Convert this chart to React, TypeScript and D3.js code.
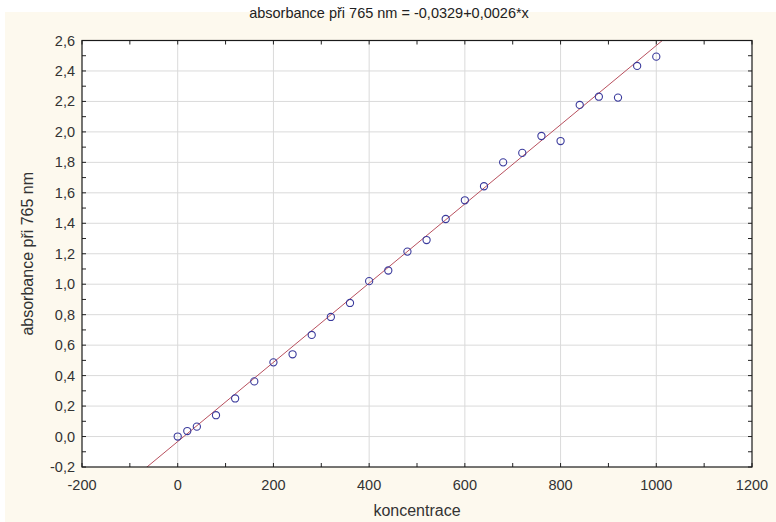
import { select, scaleLinear, range, line } from "d3";
import { useEffect, useRef } from "react";

// measured points: koncentrace vs. absorbance
const koncentrace = [0, 20, 40, 80, 120, 160, 200, 240, 280, 320, 360, 400, 440, 480, 520, 560, 600, 640, 680, 720, 760, 800, 840, 880, 920, 960, 1000];
const absorbance = [0.0, 0.036, 0.065, 0.14, 0.25, 0.362, 0.487, 0.54, 0.667, 0.785, 0.877, 1.02, 1.09, 1.214, 1.29, 1.428, 1.551, 1.643, 1.8, 1.862, 1.973, 1.94, 2.177, 2.231, 2.225, 2.433, 2.494];

// regression line from the title
const intercept = -0.0329;
const slope = 0.0026;

const xTicks = [-200, 0, 200, 400, 600, 800, 1000, 1200];
const yTicks = [-0.2, 0.0, 0.2, 0.4, 0.6, 0.8, 1.0, 1.2, 1.4, 1.6, 1.8, 2.0, 2.2, 2.4, 2.6];

const title = "absorbance při 765 nm = -0,0329+0,0026*x";
const xLabel = "koncentrace";
const yLabel = "absorbance při 765 nm";

const W = 776, H = 522;
const margin = { top: 40.5, right: 24, bottom: 55, left: 82 };

export default function App() {
  const ref = useRef<SVGSVGElement>(null);

  useEffect(() => {
    if (!ref.current) return;
    const svg = select(ref.current);
    svg.selectAll("*").remove();

    const width = W - margin.left - margin.right;
    const height = H - margin.top - margin.bottom;

    const x = scaleLinear().domain([-200, 1200]).range([0, width]);
    const y = scaleLinear().domain([-0.2, 2.6]).range([height, 0]);

    // backgrounds
    svg.append("rect").attr("width", W).attr("height", H).attr("fill", "#ffffff");
    svg.append("rect").attr("x", 5).attr("y", 12).attr("width", W - 5).attr("height", H - 12).attr("fill", "#fdf9ee");

    const chart = svg.append("g").attr("transform", `translate(${margin.left}, ${margin.top})`);
    chart.append("rect").attr("width", width).attr("height", height).attr("fill", "#ffffff");

    svg.append("defs").append("clipPath").attr("id", "plotclip")
      .append("rect").attr("width", width).attr("height", height);

    // grid
    chart.append("g").selectAll("line").data(xTicks.slice(1, -1)).enter().append("line")
      .attr("x1", (d) => x(d)).attr("x2", (d) => x(d)).attr("y1", 0).attr("y2", height)
      .attr("stroke", "#dadada").attr("stroke-width", 1);
    chart.append("g").selectAll("line").data(yTicks.slice(1, -1)).enter().append("line")
      .attr("y1", (d) => y(d)).attr("y2", (d) => y(d)).attr("x1", 0).attr("x2", width)
      .attr("stroke", "#dadada").attr("stroke-width", 1);

    // minor + major ticks, pointing inward on all four sides
    const tl = 4;
    const xt = range(-200, 1201, 100);
    const yt = range(-2, 27, 1).map((v) => v / 10);
    const ticks = chart.append("g").attr("stroke", "#222").attr("stroke-width", 1);
    xt.forEach((d) => {
      ticks.append("line").attr("x1", x(d)).attr("x2", x(d)).attr("y1", height).attr("y2", height - tl);
      ticks.append("line").attr("x1", x(d)).attr("x2", x(d)).attr("y1", 0).attr("y2", tl);
    });
    yt.forEach((d) => {
      ticks.append("line").attr("y1", y(d)).attr("y2", y(d)).attr("x1", 0).attr("x2", tl);
      ticks.append("line").attr("y1", y(d)).attr("y2", y(d)).attr("x1", width).attr("x2", width - tl);
    });

    // fit line
    const fit = line<number>().x((d) => x(d)).y((d) => y(intercept + slope * d));
    chart.append("path").datum([-200, 1200]).attr("d", fit)
      .attr("clip-path", "url(#plotclip)")
      .attr("fill", "none").attr("stroke", "#b8505e").attr("stroke-width", 1);

    // points
    chart.append("g").selectAll("circle").data(koncentrace).enter().append("circle")
      .attr("cx", (d) => x(d))
      .attr("cy", (d, i) => y(absorbance[i]))
      .attr("r", 3.6)
      .attr("fill", "none").attr("stroke", "#3a3a9c").attr("stroke-width", 1.1);

    // frame
    chart.append("rect").attr("width", width).attr("height", height)
      .attr("fill", "none").attr("stroke", "#1a1a1a").attr("stroke-width", 1.2);

    const font = "'Liberation Sans', Arial, sans-serif";

    // tick labels
    chart.append("g").selectAll("text").data(xTicks).enter().append("text")
      .attr("x", (d) => x(d)).attr("y", height + 23)
      .attr("text-anchor", "middle").attr("font-family", font).attr("font-size", 14.5)
      .attr("fill", "#333").text((d) => String(d));
    chart.append("g").selectAll("text").data(yTicks).enter().append("text")
      .attr("x", -7).attr("y", (d) => y(d) + 5)
      .attr("text-anchor", "end").attr("font-family", font).attr("font-size", 14.5)
      .attr("fill", "#333").text((d) => d.toFixed(1).replace(".", ","));

    // titles
    svg.append("text").attr("x", 389).attr("y", 18).attr("text-anchor", "middle")
      .attr("font-family", font).attr("font-size", 14.5).attr("fill", "#222").text(title);
    svg.append("text").attr("x", margin.left + width / 2).attr("y", H - 6).attr("text-anchor", "middle")
      .attr("font-family", font).attr("font-size", 16).attr("fill", "#333").text(xLabel);
    svg.append("text").attr("transform", `translate(33, ${margin.top + height / 2}) rotate(-90)`)
      .attr("text-anchor", "middle")
      .attr("font-family", font).attr("font-size", 16).attr("fill", "#333").text(yLabel);
  }, []);

  return (
    <svg
      ref={ref}
      width={W}
      height={H}
      style={{ position: "absolute", left: 0, top: 0, display: "block" }}
    />
  );
}
